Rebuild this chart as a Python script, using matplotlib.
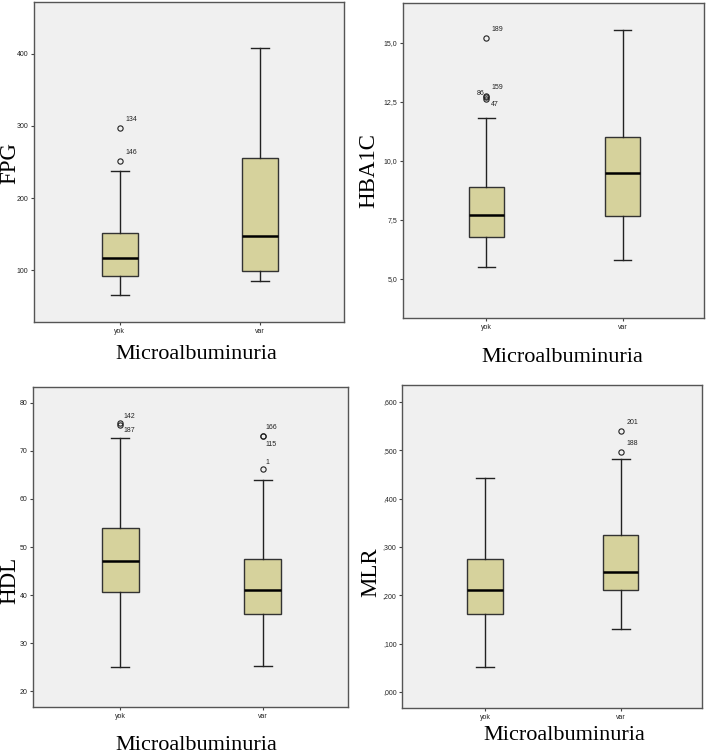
import matplotlib
matplotlib.use("Agg")
import matplotlib.pyplot as plt
from matplotlib.ticker import FuncFormatter

groups = ["yok", "var"]

# five-number summaries: whisker low, Q1, median, Q3, whisker high
fpg_yok = [65.7, 91.7, 116.7, 151.4, 237.0]
fpg_var = [85.0, 99.0, 146.8, 255.6, 407.9]
fpg_out_yok = [251.0, 297.0]
fpg_ids_yok = ["146", "134"]

hba1c_yok = [5.51, 6.75, 7.71, 8.90, 11.81]
hba1c_var = [5.80, 7.65, 9.50, 11.00, 15.52]
hba1c_out_yok = [15.2, 12.75, 12.68, 12.62]
hba1c_ids_yok = ["189", "159", "86", "47"]

hdl_yok = [25.05, 40.6, 47.0, 54.0, 72.7]
hdl_var = [25.3, 36.0, 41.06, 47.4, 64.0]
hdl_out_yok = [75.8, 75.3]
hdl_ids_yok = ["142", "187"]
hdl_out_var = [73.2, 73.0, 66.15]
hdl_ids_var = ["166", "115", "1"]

mlr_yok = [0.0523, 0.1618, 0.2114, 0.2748, 0.4428]
mlr_var = [0.1314, 0.2114, 0.2486, 0.3244, 0.4814]
mlr_out_var = [0.497, 0.540]
mlr_ids_var = ["188", "201"]

BOX_FILL = "#d6d29c"
BG = "#f0f0f0"
SERIF = ["Liberation Serif", "DejaVu Serif"]
SANS = ["Liberation Sans", "DejaVu Sans"]


def stats(five, fliers, label):
    lo, q1, med, q3, hi = five
    return dict(whislo=lo, q1=q1, med=med, q3=q3, whishi=hi, fliers=fliers, label=label)


def draw(ax, yok, var, out_yok, out_var, ids_yok, ids_var, offsets_yok, offsets_var,
         ylim, yticks, fmt):
    st = [stats(yok, out_yok, groups[0]), stats(var, out_var, groups[1])]
    ax.bxp(st, positions=[1, 2], widths=0.26, capwidths=0.13, patch_artist=True,
           boxprops=dict(facecolor=BOX_FILL, edgecolor="#333333", linewidth=1.0),
           medianprops=dict(color="black", linewidth=1.8),
           whiskerprops=dict(color="#222222", linewidth=1.0),
           capprops=dict(color="#222222", linewidth=1.0),
           flierprops=dict(marker="o", markerfacecolor="none", markeredgecolor="#222222",
                           markersize=3.8, markeredgewidth=0.8))
    for pos, vals, ids, offs in [(1, out_yok, ids_yok, offsets_yok),
                                 (2, out_var, ids_var, offsets_var)]:
        for v, t, o in zip(vals, ids, offs):
            ax.annotate(t, (pos, v), xytext=o, textcoords="offset points",
                        fontsize=5, family=SANS, ha="left" if o[0] >= 0 else "right",
                        va="center", color="#222222")
    ax.set_facecolor(BG)
    ax.set_xlim(0.388, 2.598)
    ax.set_ylim(*ylim)
    ax.set_yticks(yticks)
    ax.yaxis.set_major_formatter(FuncFormatter(fmt))
    ax.set_xticks([1, 2])
    ax.set_xticklabels(groups)
    ax.tick_params(axis="both", labelsize=5, length=2.5, width=0.8, color="#444444",
                   labelcolor="#222222", pad=1.5)
    for lab in ax.get_xticklabels() + ax.get_yticklabels():
        lab.set_family(SANS)
    for s in ax.spines.values():
        s.set_color("#555555")
        s.set_linewidth(1.0)


W, H = 708, 755
fig = plt.figure(figsize=(W / 100, H / 100), dpi=100)
fig.patch.set_facecolor("white")


def px_axes(l, r, t, b):
    return fig.add_axes([l / W, 1 - b / H, (r - l) / W, (b - t) / H])


ax1 = px_axes(34, 344, 2, 322)
ax2 = px_axes(403, 704, 3, 318)
ax3 = px_axes(33, 348, 387, 707)
ax4 = px_axes(402, 702, 385, 708)

draw(ax1, fpg_yok, fpg_var, fpg_out_yok, [], fpg_ids_yok, [],
     [(4, 6), (4, 6)], [],
     (28, 472), [100, 200, 300, 400], lambda v, p: f"{v:.0f}")

draw(ax2, hba1c_yok, hba1c_var, hba1c_out_yok, [], hba1c_ids_yok, [],
     [(4, 6), (4, 6), (-1, 3), (3, -4)], [],
     (3.34, 16.68), [5.0, 7.5, 10.0, 12.5, 15.0],
     lambda v, p: f"{v:.1f}".replace(".", ","))

draw(ax3, hdl_yok, hdl_var, hdl_out_yok, hdl_out_var, hdl_ids_yok, hdl_ids_var,
     [(2, 5), (2, -4)], [(2, 6), (2, -6), (2, 5)],
     (16.7, 83.3), [20, 30, 40, 50, 60, 70, 80], lambda v, p: f"{v:.0f}")

draw(ax4, mlr_yok, mlr_var, [], mlr_out_var, [], mlr_ids_var,
     [], [(4, 6), (4, 6)],
     (-0.033, 0.635), [0.0, 0.1, 0.2, 0.3, 0.4, 0.5, 0.6],
     lambda v, p: f"{v:.3f}".replace("0.", ",", 1))

# axis titles
ylabels = [("FPG", 10, 163), ("HBA1C", 369, 171), ("HDL", 10, 580), ("MLR", 371, 572)]
for txt, x, y in ylabels:
    fig.text(x / W, 1 - y / H, txt, rotation=90, ha="center", va="center",
             fontsize=16.5, family=SERIF)

xlabels = [(196, 355), (562, 357), (196, 745), (564, 735)]
for x, y in xlabels:
    fig.text(x / W, 1 - y / H, "Microalbuminuria", ha="center", va="center",
             fontsize=16, family=SERIF)

fig.savefig("out.png", dpi=100)
